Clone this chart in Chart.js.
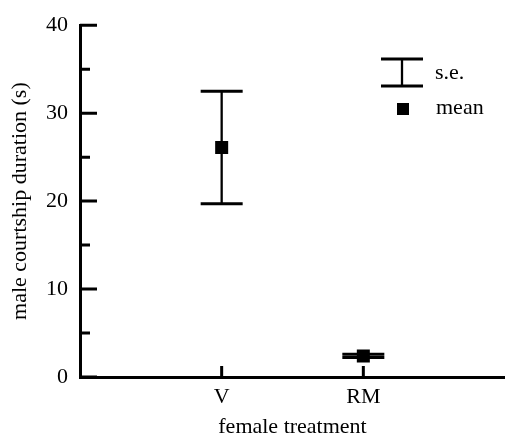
<!DOCTYPE html>
<html>
<head>
<meta charset="utf-8">
<script src="https://cdn.jsdelivr.net/npm/chart.js@4/dist/chart.umd.min.js"></script>
<style>
  html, body { margin: 0; padding: 0; background: #fff; }
  #wrap { width: 505px; height: 438px; }
</style>
</head>
<body>
<div id="wrap"><canvas id="courtshipChart"></canvas></div>
<script>
// data
const categories = ['V', 'RM'];
const categoryPos = [1, 2];
const meanValues = [26.1, 2.4];
const seValues = [6.4, 0.18];
const yTickValues = [0, 10, 20, 30, 40];

const serif = '"Liberation Serif", "Times New Roman", serif';

// error bars, inward ticks and the little legend
const extrasPlugin = {
    id: 'extras',
    afterDatasetsDraw(chart) {
        const ctx = chart.ctx;
        const xs = chart.scales.x, ys = chart.scales.y;
        ctx.save();
        ctx.strokeStyle = '#000';
        categoryPos.forEach(function(p, i) {
            const x = xs.getPixelForValue(p);
            const yHi = ys.getPixelForValue(meanValues[i] + seValues[i]);
            const yLo = ys.getPixelForValue(meanValues[i] - seValues[i]);
            ctx.lineWidth = 2.3;
            ctx.beginPath();
            ctx.moveTo(x, yHi); ctx.lineTo(x, yLo);
            ctx.stroke();
            ctx.lineWidth = 3;
            ctx.beginPath();
            ctx.moveTo(x - 21, yHi); ctx.lineTo(x + 21, yHi);
            ctx.moveTo(x - 21, yLo); ctx.lineTo(x + 21, yLo);
            ctx.stroke();
        });
        ctx.restore();
    },
    afterDraw(chart) {
        const ctx = chart.ctx;
        const xs = chart.scales.x, ys = chart.scales.y;
        const area = chart.chartArea;
        ctx.save();
        ctx.strokeStyle = '#000';
        ctx.lineWidth = 3;
        ctx.beginPath();
        // y ticks pointing into the plot
        ys.ticks.forEach(function(t) {
            const y = ys.getPixelForValue(t.value);
            const len = t.value % 10 === 0 ? 17 : 10;
            ctx.moveTo(area.left, y); ctx.lineTo(area.left + len, y);
        });
        // x ticks pointing up
        categoryPos.forEach(function(p) {
            const x = xs.getPixelForValue(p);
            ctx.moveTo(x, area.bottom); ctx.lineTo(x, area.bottom - 11);
        });
        ctx.stroke();

        // legend
        ctx.lineWidth = 2.3;
        ctx.beginPath();
        ctx.moveTo(402, 59); ctx.lineTo(402, 86);
        ctx.stroke();
        ctx.lineWidth = 3;
        ctx.beginPath();
        ctx.moveTo(381, 59); ctx.lineTo(423, 59);
        ctx.moveTo(381, 86); ctx.lineTo(423, 86);
        ctx.stroke();
        ctx.fillStyle = '#000';
        ctx.fillRect(397, 103, 12, 12);
        ctx.font = '22px ' + serif;
        ctx.textBaseline = 'middle';
        ctx.textAlign = 'left';
        ctx.fillText('s.e.', 435, 73);
        ctx.fillText('mean', 436, 108);
        ctx.restore();
    }
};

new Chart(document.getElementById('courtshipChart'), {
    type: 'scatter',
    data: {
        datasets: [{
            label: 'mean',
            data: categoryPos.map(function(p, i) { return { x: p, y: meanValues[i] }; }),
            pointStyle: 'rect',
            pointRadius: 9.2,
            pointHoverRadius: 9.2,
            backgroundColor: '#000',
            borderWidth: 0
        }]
    },
    options: {
        responsive: true,
        maintainAspectRatio: false,
        animation: false,
        layout: { autoPadding: false, padding: { top: 23, right: 0, bottom: 0, left: 0 } },
        plugins: {
            legend: { display: false },
            tooltip: { enabled: false }
        },
        scales: {
            x: {
                type: 'linear',
                min: 0,
                max: 3,
                afterBuildTicks(scale) {
                    scale.ticks = categoryPos.map(function(v) { return { value: v }; });
                },
                afterFit(scale) {
                    scale.height = 61;
                    scale.paddingLeft = 0;
                    scale.paddingRight = 0;
                },
                grid: { display: false, drawTicks: false },
                border: { display: true, color: '#000', width: 3 },
                ticks: {
                    color: '#000',
                    padding: 7,
                    maxRotation: 0,
                    font: { family: serif, size: 22 },
                    callback: function(v) {
                        const i = categoryPos.indexOf(v);
                        return i >= 0 ? categories[i] : '';
                    }
                },
                title: {
                    display: true,
                    text: 'female treatment',
                    color: '#000',
                    font: { family: serif, size: 22, lineHeight: 1 },
                    padding: { top: 0, bottom: 0 }
                }
            },
            y: {
                min: 0,
                max: 40,
                afterFit(scale) { scale.width = 80; },
                grid: { display: false, drawTicks: false },
                border: { display: true, color: '#000', width: 3 },
                ticks: {
                    stepSize: 5,
                    color: '#000',
                    padding: 12,
                    font: { family: serif, size: 22 },
                    callback: function(v) {
                        return yTickValues.indexOf(v) >= 0 ? String(v) : '';
                    }
                },
                title: {
                    display: true,
                    text: 'male courtship duration (s)',
                    color: '#000',
                    font: { family: serif, size: 22, lineHeight: 1 },
                    padding: { top: 9, bottom: 0 }
                }
            }
        }
    },
    plugins: [extrasPlugin]
});
</script>
</body>
</html>
